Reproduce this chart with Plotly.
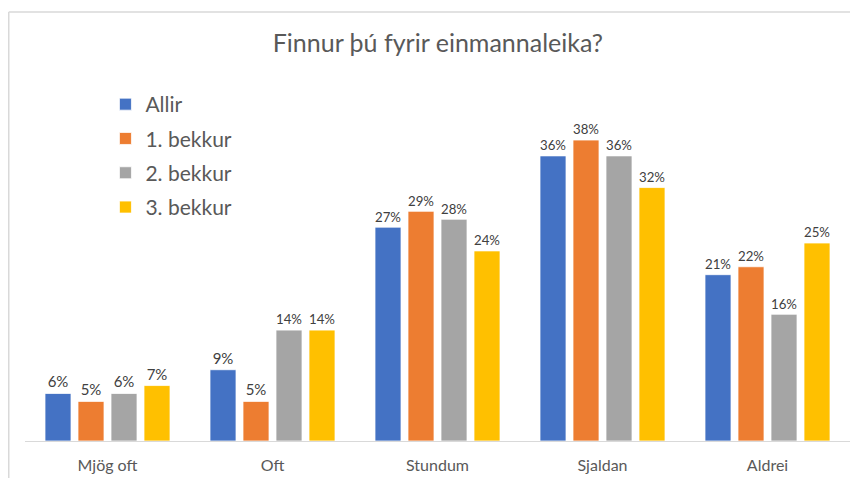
import plotly.graph_objects as go

categories = ["Mjög oft", "Oft", "Stundum", "Sjaldan", "Aldrei"]
series_names = ["Allir", "1. bekkur", "2. bekkur", "3. bekkur"]
allir = [6, 9, 27, 36, 21]
bekkur1 = [5, 5, 29, 38, 22]
bekkur2 = [6, 14, 28, 36, 16]
bekkur3 = [7, 14, 24, 32, 25]
colors = ["#4472C4", "#ED7D31", "#A5A5A5", "#FFC000"]

FONT = "Lato"

fig = go.Figure()
for i, (name, vals) in enumerate(zip(series_names, [allir, bekkur1, bekkur2, bekkur3])):
    fig.add_trace(go.Bar(
        x=categories, y=vals, name=name,
        marker=dict(color=colors[i], line=dict(color="white", width=0.75)),
        text=[f"{v}%" for v in vals], textposition="outside",
        textfont=dict(family=FONT, size=15, color="#404040"),
        cliponaxis=False, legendgroup=name,
    ))

# page body has an 8px margin; positions below compensate for it
fig.update_layout(
    width=858, height=478,
    margin=dict(l=17, r=16, t=37, b=45),
    paper_bgcolor="white", plot_bgcolor="white",
    barmode="group", bargap=0.2, bargroupgap=0.212,
    title=dict(text="Finnur þú fyrir einmannaleika?", x=0.501, xanchor="center",
               y=1 - 35 / 478, yanchor="middle", yref="container",
               font=dict(family=FONT, size=25, color="#595959")),
    legend=dict(x=0.0975, y=0.9015, xanchor="left", yanchor="top",
                font=dict(family=FONT, size=21, color="#595959"),
                bgcolor="rgba(0,0,0,0)", tracegroupgap=4, traceorder="grouped"),
    xaxis=dict(showline=True, linecolor="#D9D9D9", linewidth=1, showgrid=False,
               ticks="outside", ticklen=10, tickcolor="rgba(0,0,0,0)",
               tickfont=dict(family=FONT, size=16, color="#595959")),
    yaxis=dict(range=[0, 50], visible=False, showgrid=False),
    showlegend=True,
    shapes=[
        dict(type="line", xref="paper", yref="paper", x0=(0.75 - 17) / 825, x1=(858 - 17) / 825,
             y0=(433 - 4) / 396, y1=(433 - 4) / 396, line=dict(color="#D9D9D9", width=1.5)),
        dict(type="line", xref="paper", yref="paper", x0=(0.75 - 17) / 825, x1=(0.75 - 17) / 825,
             y0=(433 - 4) / 396, y1=(433 - 480) / 396, line=dict(color="#D9D9D9", width=1.5)),
    ],
)

fig.write_html("out.html")
